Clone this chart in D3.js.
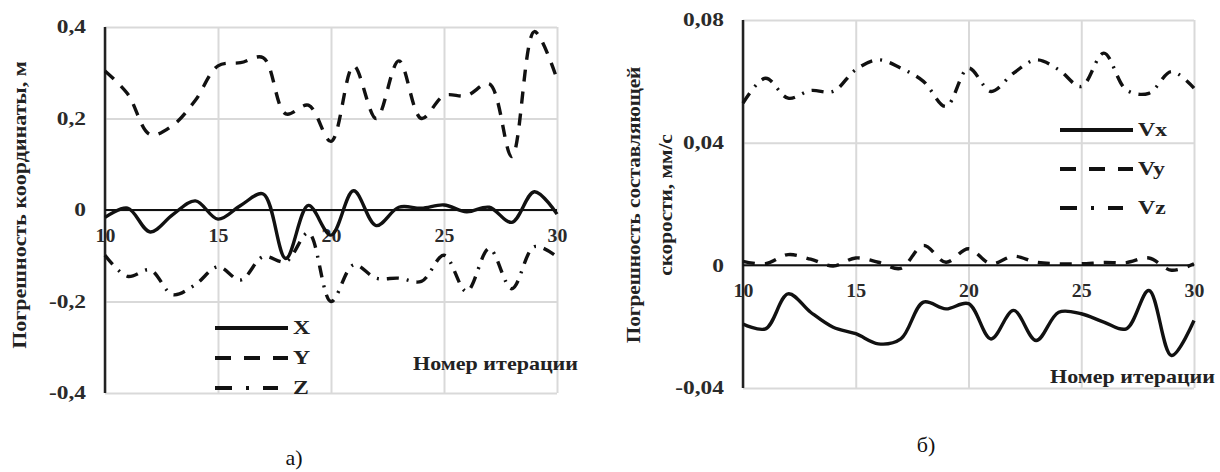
<!DOCTYPE html>
<html>
<head>
<meta charset="utf-8">
<script src="https://cdn.jsdelivr.net/npm/d3@7/dist/d3.min.js"></script>
<style>
body{margin:0;background:#fff;}
svg text{font-family:"Liberation Serif","Times New Roman","DejaVu Serif",serif !important;}
.tick text{font-weight:bold;font-size:18px;fill:#2a2a2a;}
.grid line{stroke:#d9d9d9;stroke-width:2;}
.grid path, .ticks path{display:none;}
.lbl{font-weight:bold;font-size:19px;fill:#222;}
</style>
</head>
<body>
<svg width="1220" height="472"></svg>
<script>
// номера итераций
const iterations = [10,11,12,13,14,15,16,17,18,19,20,21,22,23,24,25,26,27,28,29,30];
const xTicks = [10,15,20,25,30];

// а) погрешность координат, м
const errX = [-0.016,0.004,-0.048,-0.01,0.02,-0.02,0.01,0.035,-0.106,0.01,-0.055,0.042,-0.034,0.006,0.004,0.011,-0.004,0.006,-0.027,0.04,-0.009];
const errY = [0.304,0.254,0.165,0.185,0.24,0.315,0.322,0.333,0.21,0.229,0.15,0.315,0.2,0.326,0.2,0.25,0.25,0.276,0.117,0.39,0.286];
const errZ = [-0.099,-0.145,-0.131,-0.185,-0.163,-0.124,-0.153,-0.102,-0.113,-0.05,-0.2,-0.12,-0.149,-0.149,-0.156,-0.099,-0.178,-0.084,-0.172,-0.08,-0.102];
const coordTicks = [0.4,0.2,0,-0.2,-0.4];

// б) погрешность составляющей скорости, мм/с
const errVx = [-0.0191,-0.0207,-0.0093,-0.0153,-0.0202,-0.0223,-0.0256,-0.024,-0.012,-0.0142,-0.0125,-0.024,-0.0147,-0.0245,-0.0153,-0.0158,-0.0185,-0.0207,-0.0082,-0.0294,-0.018];
const errVy = [0.0013,0.0005,0.0035,0.002,-0.0002,0.0024,0.001,-0.001,0.0065,0.001,0.0054,0.0005,0.003,0.001,0.0005,0.0005,0.0009,0.0009,0.0024,-0.0016,0.0005];
const errVz = [0.0529,0.061,0.0545,0.057,0.0567,0.0638,0.067,0.0643,0.06,0.0518,0.0643,0.0567,0.0627,0.067,0.0638,0.0583,0.0692,0.0572,0.0561,0.0632,0.0578];
const speedTicks = [0.08,0.04,0,-0.04];

const svg = d3.select("svg");
const fmt = d => String(d).replace(".", ",");

const styles = {
	solid: {chart: null, legend: null},
	dash: {chart: "12,10", legend: "16,13"},
	dashdot: {chart: "12,8,2,8", legend: "17,14,3,14"}
};

// текст в оригинале растянут по горизонтали
function stretch(sel, k){
	sel.each(function(){
		const t = d3.select(this);
		const tx = +t.attr("x") || 0, ty = +t.attr("y") || 0;
		t.attr("x",0).attr("y",0).attr("transform",`translate(${tx},${ty}) scale(${k},1)`);
	});
}

function panel(p){
	const g = svg.append("g");
	const x = d3.scaleLinear().domain([10,30]).range([p.left,p.right]);
	const y = d3.scaleLinear().domain([p.yTicks[p.yTicks.length-1], p.yTicks[0]]).range([p.bottom,p.top]);

	// сетка
	g.append("g").attr("class","grid")
		.attr("transform",`translate(0,${p.bottom})`)
		.call(d3.axisBottom(x).tickValues(xTicks).tickSize(-(p.bottom-p.top)).tickFormat(""));
	g.append("g").attr("class","grid")
		.attr("transform",`translate(${p.left},0)`)
		.call(d3.axisLeft(y).tickValues(p.yTicks).tickSize(-(p.right-p.left)).tickFormat(""));

	// подписи осей
	const ya = g.append("g").attr("class","ticks")
		.attr("transform",`translate(${x(10)},0)`)
		.call(d3.axisLeft(y).tickValues(p.yTicks).tickSize(0).tickPadding(p.yPad).tickFormat(fmt));
	stretch(ya.selectAll(".tick text"), 1.3);
	const xa = g.append("g").attr("class","ticks")
		.attr("transform",`translate(0,${y(0)})`)
		.call(d3.axisBottom(x).tickValues(xTicks).tickSize(0).tickPadding(19).tickFormat(fmt));
	stretch(xa.selectAll(".tick text"), 1.1);

	g.append("line")
		.attr("x1",x(10)).attr("x2",x(10))
		.attr("y1",y.range()[1]).attr("y2",y.range()[0])
		.attr("stroke","#222").attr("stroke-width",2.5);
	g.append("line")
		.attr("x1",x(10)).attr("x2",x(30))
		.attr("y1",y(0)).attr("y2",y(0))
		.attr("stroke","#111").attr("stroke-width",2);

	const line = vals => d3.line()
		.x((d,i) => x(iterations[i]))
		.y(d => y(d))
		.curve(d3.curveCatmullRom.alpha(0.5))(vals);

	p.series.forEach(s => {
		g.append("path")
			.attr("d", line(s.values))
			.attr("fill","none")
			.attr("stroke","#111")
			.attr("stroke-width",3.4)
			.attr("stroke-dasharray", styles[s.style].chart);
	});

	// легенда
	p.series.forEach((s,i) => {
		const ly = p.legend.y + i*p.legend.step;
		g.append("line")
			.attr("x1",p.legend.x).attr("x2",p.legend.x + (s.style=="dashdot" ? 63 : 73))
			.attr("y1",ly).attr("y2",ly)
			.attr("stroke","#111").attr("stroke-width",4)
			.attr("stroke-dasharray", styles[s.style].legend);
		g.append("text").attr("class","lbl")
			.attr("x",p.legend.x + 78).attr("y",ly + 6)
			.text(s.name)
			.call(stretch, 1.25);
	});

	g.append("text").attr("class","lbl")
		.attr("x",p.right + 21).attr("y",p.xTitleY)
		.attr("text-anchor","end")
		.text("Номер итерации")
		.call(stretch, 1.16);

	p.yTitle.forEach((t,i) => {
		g.append("text").attr("class","lbl")
			.attr("transform",`translate(${p.yTitleX + i*32},205) rotate(-90) scale(${p.yTitleK},1)`)
			.attr("text-anchor","middle")
			.text(t);
	});

	g.append("text")
		.attr("x",p.capX).attr("y",p.capY)
		.attr("text-anchor","middle")
		.attr("font-size",22).attr("fill","#111")
		.text(p.caption);
}

panel({
	left:105, right:557, top:27, bottom:393, yPad:19,
	yTicks: coordTicks,
	series: [
		{name:"X", values:errX, style:"solid"},
		{name:"Y", values:errY, style:"dash"},
		{name:"Z", values:errZ, style:"dashdot"}
	],
	legend: {x:215, y:328, step:30},
	xTitleY: 370,
	yTitle: ["Погрешность координаты, м"],
	yTitleX: 26, yTitleK: 1.16,
	caption: "а)", capX: 294, capY: 465
});

panel({
	left:743, right:1194, top:20, bottom:388, yPad:19,
	yTicks: speedTicks,
	series: [
		{name:"Vx", values:errVx, style:"solid"},
		{name:"Vy", values:errVy, style:"dash"},
		{name:"Vz", values:errVz, style:"dashdot"}
	],
	legend: {x:1060, y:130, step:39},
	xTitleY: 383,
	yTitle: ["Погрешность составляющей", "скорости, мм/с"],
	yTitleX: 640, yTitleK: 1.12,
	caption: "б)", capX: 926, capY: 452
});
</script>
</body>
</html>
